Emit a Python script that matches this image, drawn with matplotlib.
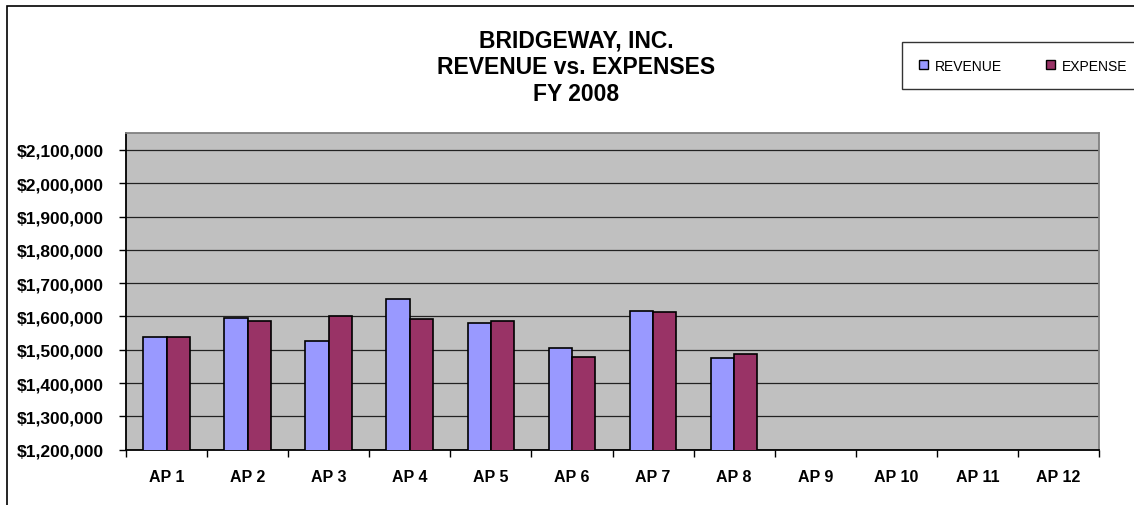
import matplotlib
matplotlib.use("Agg")
from matplotlib import pyplot as plt, patches
from matplotlib.ticker import FuncFormatter, FixedLocator
import numpy as np

# data
periods = ["AP 1", "AP 2", "AP 3", "AP 4", "AP 5", "AP 6",
           "AP 7", "AP 8", "AP 9", "AP 10", "AP 11", "AP 12"]
revenue = [1539000, 1595000, 1526000, 1652000, 1579000, 1505000, 1616000, 1474000]
expense = [1539000, 1587000, 1600000, 1591000, 1587000, 1478000, 1613000, 1486000]
y_ticks = [1200000, 1300000, 1400000, 1500000, 1600000, 1700000,
           1800000, 1900000, 2000000, 2100000]

plt.rcParams['font.family'] = ['Liberation Sans', 'DejaVu Sans']

W, H = 1134, 506
fig = plt.figure(figsize=(W / 100, H / 100), dpi=100)

# outer chart border (runs off the right/bottom edge like the original)
fig.patches.append(patches.Rectangle((7 / W, -0.1), 1.2, 1 - 7 / H + 0.1,
                                     transform=fig.transFigure, fill=False,
                                     edgecolor='black', linewidth=1.2))

ax = fig.add_axes([126 / W, 1 - 450.7 / H, (1099 - 126) / W, (450.7 - 134.3) / H])
ax.set_facecolor('#C0C0C0')

x = np.arange(len(periods))
bw = 0.288
ax.bar(x[:len(revenue)] - bw / 2, revenue, width=bw, color='#9999FF',
       edgecolor='black', linewidth=1.2, label='REVENUE', zorder=3)
ax.bar(x[:len(expense)] + bw / 2, expense, width=bw, color='#993366',
       edgecolor='black', linewidth=1.2, label='EXPENSE', zorder=3)

ax.set_xlim(-0.5, len(periods) - 0.5)
ax.set_ylim(1200000, 2150000)

ax.set_yticks(y_ticks)
ax.yaxis.set_major_formatter(FuncFormatter(lambda v, p: f"${v:,.0f}"))
ax.tick_params(axis='y', direction='out', length=5, width=1, pad=11,
               labelsize=12.5)
for lbl in ax.get_yticklabels():
    lbl.set_fontweight('bold')
ax.grid(axis='y', color='#222222', linewidth=0.9, zorder=1)

# category labels centred, tick marks on the boundaries
ax.set_xticks(x)
ax.set_xticklabels(periods, fontsize=11.5, fontweight='bold')
ax.tick_params(axis='x', which='major', length=0, pad=14)
ax.xaxis.set_minor_locator(FixedLocator(np.arange(-0.5, len(periods), 1.0)))
ax.tick_params(axis='x', which='minor', direction='out', length=5, width=1)

ax.spines['left'].set_color('black')
ax.spines['bottom'].set_color('black')
ax.spines['top'].set_color('#808080')
ax.spines['right'].set_color('#808080')
for s in ax.spines.values():
    s.set_linewidth(1.3)

fig.text(576 / W, 1 - 67.5 / H, "BRIDGEWAY, INC.\nREVENUE vs. EXPENSES\nFY 2008",
         ha='center', va='center', fontsize=16.5, fontweight='bold',
         linespacing=1.2)

leg = ax.legend(loc='upper left', bbox_to_anchor=(902 / W, 1 - 43 / H),
                bbox_transform=fig.transFigure, ncol=2, fontsize=10,
                frameon=True, fancybox=False, handlelength=0.65,
                handleheight=0.65, handletextpad=0.5, columnspacing=3.2,
                borderpad=1.2, borderaxespad=0)
leg.get_frame().set_edgecolor('black')
leg.get_frame().set_linewidth(1)
for h in leg.legend_handles:
    h.set_linewidth(1)

fig.savefig("out.png", dpi=100)
